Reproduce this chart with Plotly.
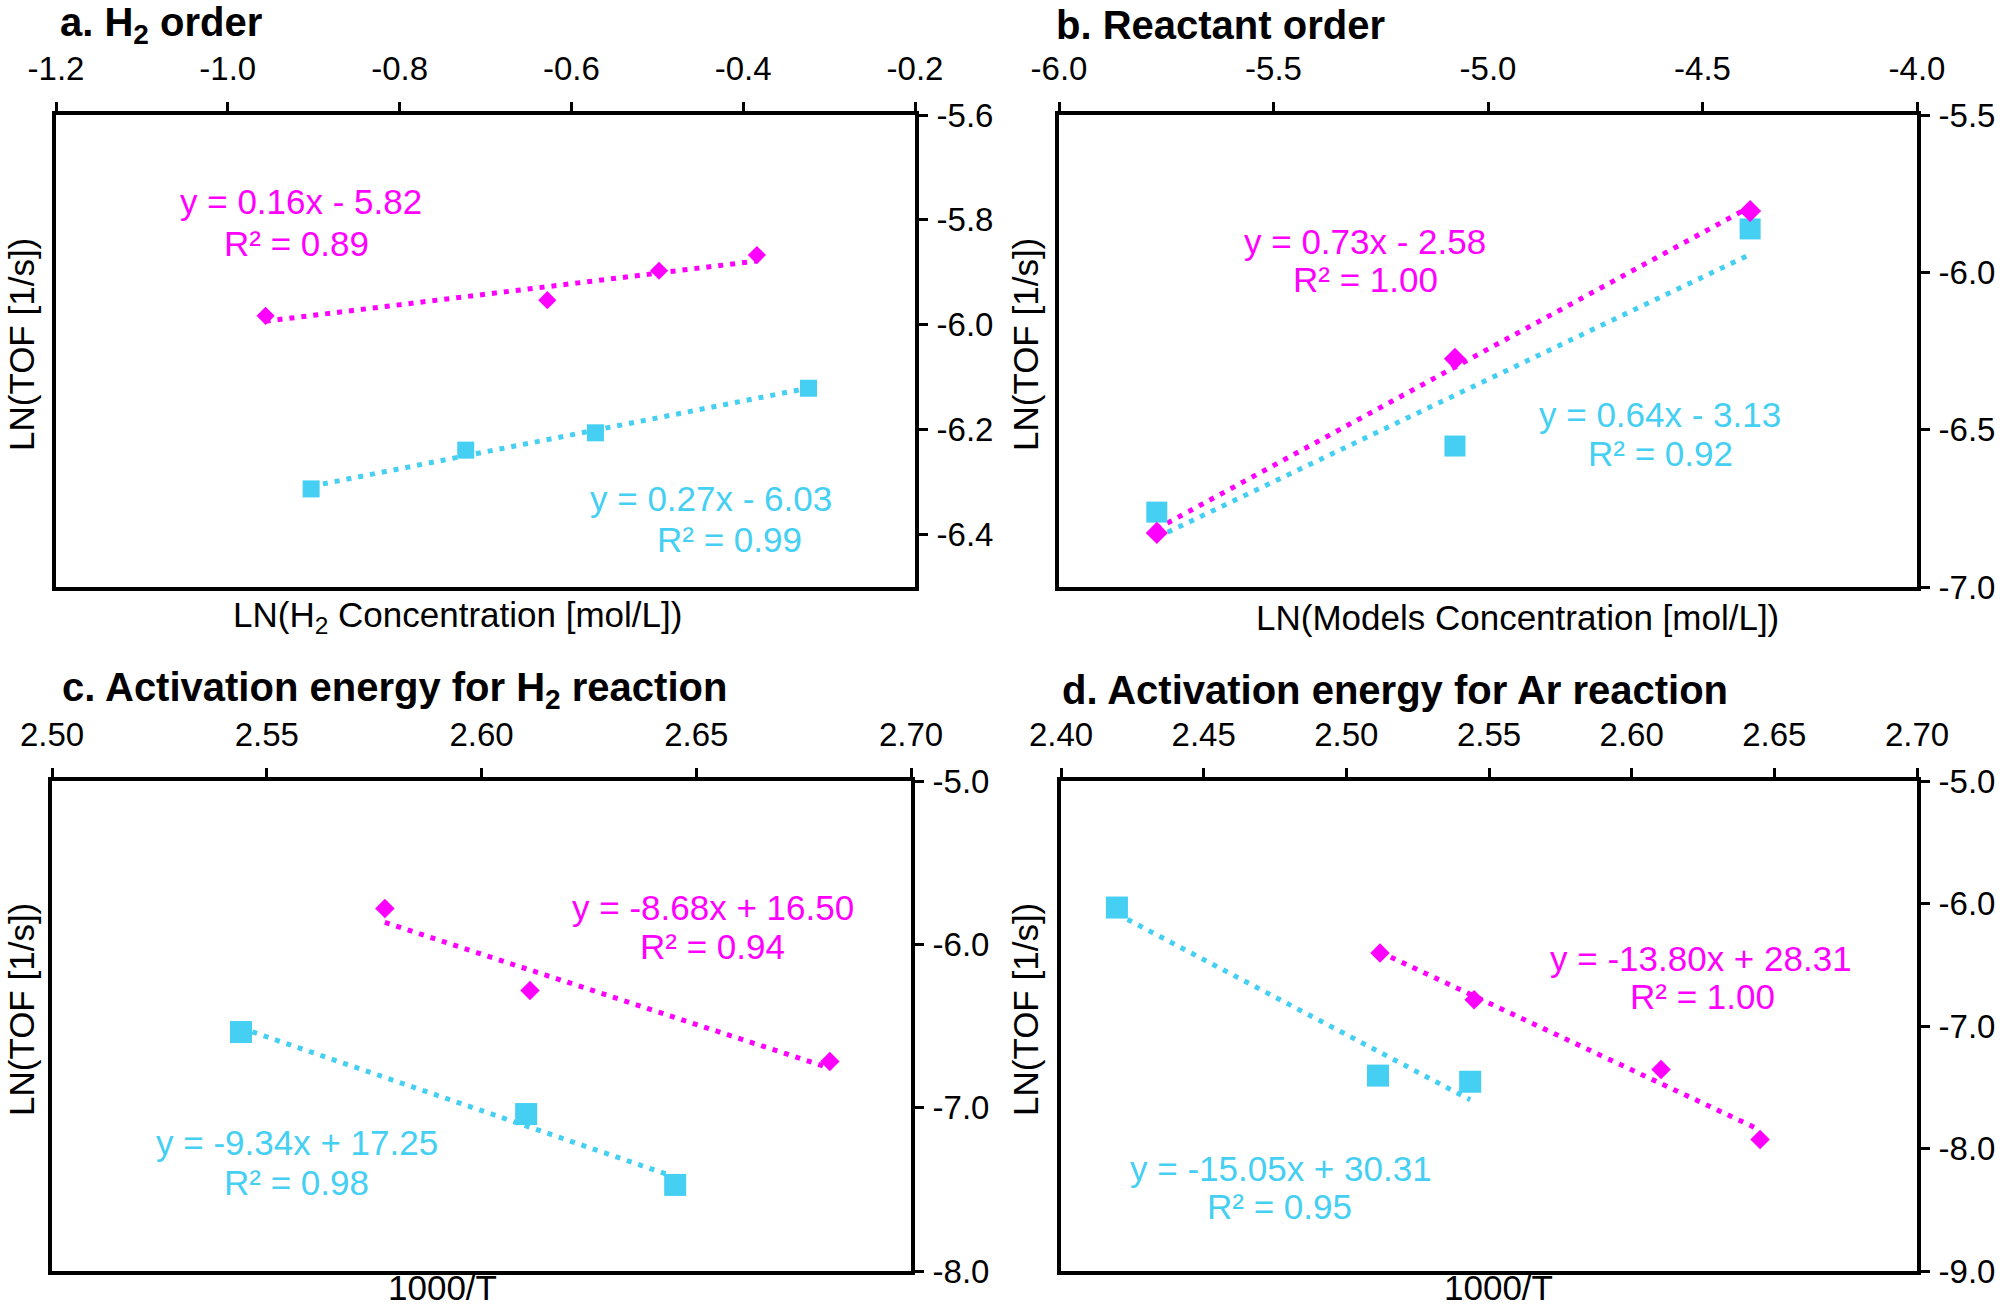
import numpy as np
import plotly.graph_objects as go

W, H = 2008, 1309
MAGENTA = "#FF00FF"
CYAN = "#44CFF3"
FONT = "Liberation Sans, Arial, sans-serif"

# ---------------- data ----------------
# a. H2 order
a_x_mag = [-0.956, -0.628, -0.498, -0.384]
a_y_mag = [-5.983, -5.953, -5.897, -5.867]
a_x_cyan = [-0.903, -0.723, -0.572, -0.324]
a_y_cyan = [-6.313, -6.239, -6.206, -6.121]
# b. Reactant order
b_x_mag = [-5.772, -5.077, -4.389]
b_y_mag = [-6.828, -6.275, -5.805]
b_x_cyan = [-5.772, -5.077, -4.389]
b_y_cyan = [-6.762, -6.552, -5.862]
# c. Activation energy for H2 reaction
c_x_mag = [2.5775, 2.6113, 2.6811]
c_y_mag = [-5.781, -6.283, -6.717]
c_x_cyan = [2.5440, 2.6104, 2.6451]
c_y_cyan = [-6.537, -7.039, -7.473]
# d. Activation energy for Ar reaction
d_x_mag = [2.5118, 2.5448, 2.6103, 2.6450]
d_y_mag = [-6.405, -6.785, -7.355, -7.927]
d_x_cyan = [2.4196, 2.5111, 2.5434]
d_y_cyan = [-6.033, -7.405, -7.455]

# axis ticks
a_xticks = [-1.2, -1.0, -0.8, -0.6, -0.4, -0.2]
a_yticks = [-5.6, -5.8, -6.0, -6.2, -6.4]
b_xticks = [-6.0, -5.5, -5.0, -4.5, -4.0]
b_yticks = [-5.5, -6.0, -6.5, -7.0]
c_xticks = [2.50, 2.55, 2.60, 2.65, 2.70]
c_yticks = [-5.0, -6.0, -7.0, -8.0]
d_xticks = [2.40, 2.45, 2.50, 2.55, 2.60, 2.65, 2.70]
d_yticks = [-5.0, -6.0, -7.0, -8.0, -9.0]

titles = ["<b>a. H<sub>2</sub> order</b>", "<b>b. Reactant order</b>",
          "<b>c. Activation energy for H<sub>2</sub> reaction</b>",
          "<b>d. Activation energy for Ar reaction</b>"]
xtitles = ["LN(H<sub>2</sub> Concentration [mol/L])",
           "LN(Models Concentration [mol/L])", "1000/T", "1000/T"]
ytitle = "LN(TOF [1/s])"

eq_mag = [("y = 0.16x - 5.82", "R² = 0.89"), ("y = 0.73x - 2.58", "R² = 1.00"),
          ("y = -8.68x + 16.50", "R² = 0.94"), ("y = -13.80x + 28.31", "R² = 1.00")]
eq_cyan = [("y = 0.27x - 6.03", "R² = 0.99"), ("y = 0.64x - 3.13", "R² = 0.92"),
           ("y = -9.34x + 17.25", "R² = 0.98"), ("y = -15.05x + 30.31", "R² = 0.95")]

# ---------------- layout geometry (pixels) ----------------
boxes = [(56, 915, 115, 587), (1059, 1917, 115, 587),
         (52, 911, 781, 1271), (1061, 1917, 781, 1271)]
xranges = [[-1.2, -0.2], [-6.0, -4.0], [2.50, 2.70], [2.40, 2.70]]
yranges = [[-6.5, -5.6], [-7.0, -5.5], [-8.0, -5.0], [-9.0, -5.0]]
xt = [a_xticks, b_xticks, c_xticks, d_xticks]
yt = [a_yticks, b_yticks, c_yticks, d_yticks]
xfmt = ["{:.1f}", "{:.1f}", "{:.2f}", "{:.2f}"]
yfmt = ["{:.1f}", "{:.1f}", "{:.1f}", "{:.1f}"]
msize_d = [14, 17, 15, 15]
msize_s = [17, 21, 22, 22]

title_pos = [(58, 25), (1054, 25), (60, 690), (1060, 690)]
xtitle_pos = [(457, 617), (1517, 617), (442, 1287), (1498, 1287)]
ytitle_pos = [(21, 345), (1025, 345), (21, 1010), (1025, 1010)]
eqm_pos = [((301, 202), (296, 243)), ((1365, 241), (1365, 280)),
           ((713, 907), (712, 946)), ((1701, 958), (1702, 996))]
eqc_pos = [((711, 499), (729, 539)), ((1660, 414), (1660, 453)),
           ((297, 1142), (296, 1182)), ((1281, 1168), (1279, 1206))]

series = [(a_x_mag, a_y_mag, a_x_cyan, a_y_cyan),
          (b_x_mag, b_y_mag, b_x_cyan, b_y_cyan),
          (c_x_mag, c_y_mag, c_x_cyan, c_y_cyan),
          (d_x_mag, d_y_mag, d_x_cyan, d_y_cyan)]


def fmt(v, f):
    return f.format(v).replace("\u2212", "-")


fig = go.Figure()
layout = dict(width=W, height=H,
              margin=dict(l=0, r=0, t=0, b=0, pad=0, autoexpand=False),
              paper_bgcolor="white", plot_bgcolor="white", showlegend=False,
              font=dict(family=FONT, size=33, color="black"))
annotations = []


def ann(text, px, py, size=35, color="black", xanchor="center", angle=0):
    annotations.append(dict(text=text, x=px / W, y=1 - py / H, xref="paper", yref="paper",
                            xanchor=xanchor, yanchor="middle", showarrow=False,
                            textangle=angle,
                            font=dict(family=FONT, size=size, color=color)))


for i in range(4):
    sfx = "" if i == 0 else str(i + 1)
    xa, ya = "x" + sfx, "y" + sfx
    l, r, t, b = boxes[i]
    xm, ym, xc, yc = series[i]

    # trendlines (linear fit of each series, drawn over the data extent)
    for xs, ys, col in ((xm, ym, MAGENTA), (xc, yc, CYAN)):
        k, c0 = np.polyfit(xs, ys, 1)
        xe = np.array([min(xs), max(xs)])
        fig.add_trace(go.Scatter(x=xe, y=k * xe + c0, mode="lines", xaxis=xa, yaxis=ya,
                                 line=dict(color=col, width=5, dash="5px,7px"),
                                 hoverinfo="skip"))
    fig.add_trace(go.Scatter(x=xc, y=yc, mode="markers", xaxis=xa, yaxis=ya,
                             marker=dict(symbol="square", size=msize_s[i], color=CYAN)))
    fig.add_trace(go.Scatter(x=xm, y=ym, mode="markers", xaxis=xa, yaxis=ya,
                             marker=dict(symbol="diamond", size=msize_d[i], color=MAGENTA)))

    axcommon = dict(showline=True, linewidth=4, linecolor="black", mirror=True,
                    showgrid=False, zeroline=False, ticks="outside", ticklen=9,
                    tickwidth=3, tickcolor="black", automargin=False,
                    tickfont=dict(family=FONT, size=33, color="black"))
    layout["xaxis" + sfx] = dict(axcommon, domain=[l / W, r / W], anchor=ya, side="top",
                                 range=xranges[i], tickvals=xt[i],
                                 ticktext=[fmt(v, xfmt[i]) for v in xt[i]],
                                 ticklabelstandoff=9)
    layout["yaxis" + sfx] = dict(axcommon, domain=[1 - b / H, 1 - t / H], anchor=xa,
                                 side="right", range=yranges[i], tickvals=yt[i],
                                 ticktext=[fmt(v, yfmt[i]) for v in yt[i]],
                                 ticklabelstandoff=2)

    ann(titles[i], title_pos[i][0], title_pos[i][1], size=40, xanchor="left")
    ann(xtitles[i], xtitle_pos[i][0], xtitle_pos[i][1], size=35)
    ann(ytitle, ytitle_pos[i][0], ytitle_pos[i][1], size=35, angle=-90)
    for (txt, pos) in zip(eq_mag[i], eqm_pos[i]):
        ann(txt, pos[0], pos[1], size=35, color=MAGENTA)
    for (txt, pos) in zip(eq_cyan[i], eqc_pos[i]):
        ann(txt, pos[0], pos[1], size=35, color=CYAN)

layout["annotations"] = annotations
fig.update_layout(**layout)
fig.write_html("out.html", config={"displayModeBar": False},
               post_script="document.body.style.margin='0';document.body.style.overflow='hidden';")
